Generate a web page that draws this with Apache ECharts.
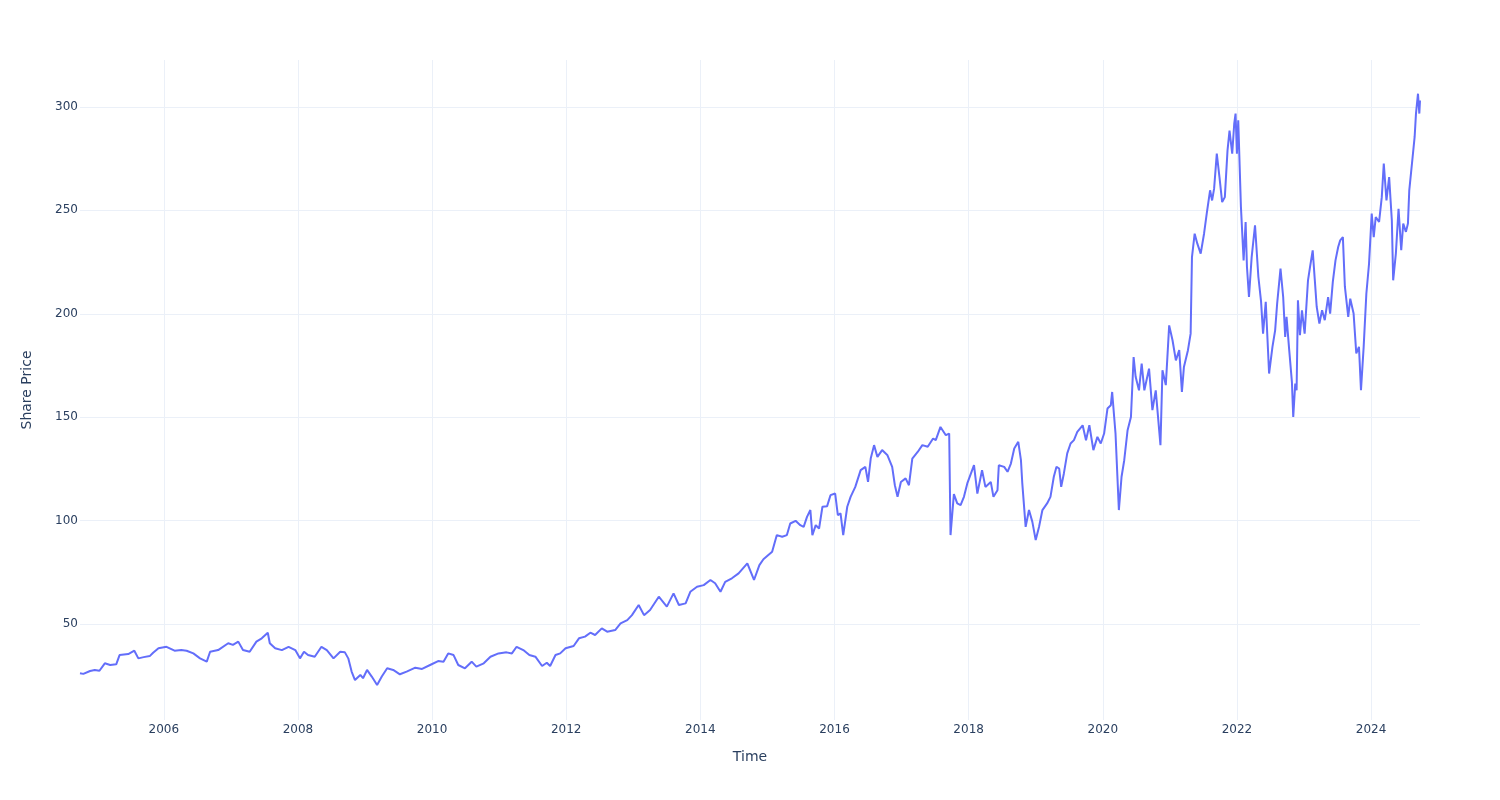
<!DOCTYPE html>
<html>
<head>
<meta charset="utf-8">
<script src="https://cdn.jsdelivr.net/npm/echarts@6/dist/echarts.min.js"></script>
<style>html,body{margin:0;padding:0;background:#fff;}#chart{width:1500px;height:800px;}</style>
</head>
<body>
<div id="chart"></div>
<script>
// Time as decimal years
const years = [
2004.75,2004.80,2004.90,2004.97,2005.04,2005.12,2005.20,2005.29,2005.34,2005.47,2005.56,2005.62,2005.70,2005.79,2005.84,2005.92,
2006.04,2006.16,2006.26,2006.34,2006.44,2006.54,2006.64,2006.69,2006.81,2006.96,
2007.03,2007.11,2007.18,2007.28,2007.38,2007.46,2007.55,2007.58,2007.66,2007.76,2007.86,2007.96,
2008.03,2008.09,2008.15,2008.25,2008.35,2008.43,2008.53,2008.63,2008.70,2008.75,2008.80,2008.85,2008.93,2008.97,
2009.03,2009.10,2009.18,2009.25,2009.33,2009.42,2009.52,2009.62,2009.75,2009.85,2009.97,
2010.09,2010.17,2010.24,2010.32,2010.39,2010.49,2010.59,2010.66,2010.77,2010.87,2010.99,
2011.11,2011.19,2011.26,2011.36,2011.45,2011.54,2011.64,2011.71,2011.76,2011.84,2011.91,2011.99,
2012.11,2012.19,2012.28,2012.36,2012.43,2012.53,2012.61,2012.73,2012.81,2012.91,2012.98,
2013.08,2013.16,2013.25,2013.38,2013.50,2013.60,2013.68,2013.78,2013.85,2013.95,
2014.05,2014.15,2014.22,2014.30,2014.37,2014.47,2014.57,2014.70,2014.80,2014.88,2014.94,
2015.07,2015.14,2015.22,2015.29,2015.34,2015.42,2015.49,2015.54,2015.59,2015.64,2015.67,2015.72,2015.77,2015.82,2015.89,2015.94,
2016.01,2016.05,2016.09,2016.13,2016.19,2016.24,2016.31,2016.39,2016.46,2016.50,2016.54,2016.59,2016.64,2016.71,2016.79,2016.86,2016.90,2016.94,2016.99,
2017.06,2017.11,2017.16,2017.24,2017.31,2017.39,2017.47,2017.51,2017.58,2017.66,2017.71,2017.73,2017.78,2017.83,2017.88,2017.93,2017.98,
2018.08,2018.13,2018.20,2018.25,2018.33,2018.37,2018.43,2018.45,2018.53,2018.58,2018.63,2018.68,2018.74,2018.78,2018.80,2018.85,2018.90,2018.95,
2019.00,2019.05,2019.10,2019.17,2019.22,2019.27,2019.31,2019.35,2019.38,2019.42,2019.47,2019.52,2019.57,2019.62,2019.70,2019.75,2019.80,2019.86,2019.92,2019.97,
2020.02,2020.07,2020.12,2020.14,2020.17,2020.19,2020.24,2020.28,2020.32,2020.37,2020.42,2020.46,2020.49,2020.54,2020.58,2020.62,2020.69,2020.74,2020.79,2020.86,2020.89,2020.94,2020.99,
2021.04,2021.09,2021.14,2021.18,2021.21,2021.27,2021.31,2021.33,2021.37,2021.41,2021.46,2021.51,2021.55,2021.60,2021.63,2021.66,2021.70,2021.74,2021.78,2021.82,2021.86,2021.89,2021.93,2021.96,2021.98,
2022.00,2022.02,2022.06,2022.10,2022.13,2022.15,2022.18,2022.22,2022.27,2022.32,2022.36,2022.39,2022.43,2022.48,2022.53,2022.57,2022.60,2022.65,2022.69,2022.72,2022.74,2022.78,2022.82,2022.84,2022.87,2022.89,2022.91,2022.94,2022.97,
2023.01,2023.06,2023.09,2023.13,2023.16,2023.19,2023.23,2023.27,2023.31,2023.36,2023.39,2023.43,2023.47,2023.51,2023.54,2023.58,2023.61,2023.66,2023.69,2023.74,2023.78,2023.82,2023.85,2023.89,2023.93,2023.97,
2024.01,2024.04,2024.07,2024.12,2024.16,2024.19,2024.23,2024.27,2024.31,2024.33,2024.37,2024.41,2024.45,2024.48,2024.52,2024.55,2024.57,2024.62,2024.65,2024.67,2024.70,2024.72,2024.73
];
const prices = [
26.2,25.9,27.3,27.8,27.4,31.0,30.2,30.5,35.0,35.5,37.1,33.4,34.0,34.5,36.1,38.3,
39.0,37.1,37.4,37.1,35.8,33.4,31.8,36.6,37.4,40.7,
39.9,41.5,37.4,36.6,41.5,43.1,45.8,40.7,38.3,37.4,39.0,37.4,
33.4,36.6,35.0,34.2,39.0,37.4,33.4,36.6,36.3,33.4,27.0,22.9,25.4,23.8,
27.8,24.6,20.5,24.6,28.6,27.8,25.7,27.0,28.9,28.3,30.2,
32.1,31.8,35.8,35.0,30.2,28.6,31.8,29.4,31.0,34.2,35.8,
36.3,35.8,39.0,37.4,35.0,34.2,29.7,31.3,29.7,35.0,35.8,38.3,
39.4,43.1,43.9,45.8,44.7,47.9,46.3,47.1,50.3,51.9,54.3,
59.2,54.3,56.8,63.2,58.4,64.8,59.2,60.0,65.6,68.0,
68.8,71.3,69.7,65.6,70.4,72.1,74.5,79.3,71.3,78.5,81.3,
84.9,93.0,92.2,93.0,98.6,99.9,97.8,97.0,101.8,105.1,93.0,97.8,96.2,106.7,107.0,112.3,
113.1,102.7,103.5,93.0,106.7,111.5,116.3,124.4,126.0,118.7,130.0,136.5,130.8,134.1,131.6,126.0,117.1,111.5,118.7,
120.4,117.1,130.0,133.2,136.5,135.7,139.7,138.9,145.3,141.3,142.1,93.0,112.8,108.3,107.5,111.5,118.0,
126.8,113.1,124.4,116.3,118.7,111.5,114.7,126.8,126.0,123.6,127.6,134.9,138.1,129.2,118.0,97.0,105.1,99.4,
90.6,97.0,105.1,108.3,111.5,121.2,126.0,125.2,116.3,122.8,132.5,137.3,138.9,142.9,146.1,138.9,146.1,134.1,140.5,137.3,
142.1,154.2,155.8,162.2,150.1,142.1,105.1,121.2,129.2,143.7,150.1,179.1,169.5,163.0,175.9,163.0,173.5,153.4,163.0,136.5,172.7,165.5,194.4,
187.2,177.5,182.4,162.2,174.3,182.4,190.4,227.4,238.7,233.9,229.1,238.7,248.4,259.7,254.8,260.5,277.4,266.1,254.0,256.4,279.0,288.6,277.4,291.9,296.8,
277.4,293.5,251.6,225.8,244.4,222.6,208.1,227.4,242.8,217.9,206.0,190.4,205.8,171.1,184.0,192.0,204.9,221.8,208.1,188.8,198.5,182.4,167.1,150.1,166.3,163.0,206.5,189.6,201.7,
190.4,216.2,222.6,230.7,217.0,203.3,195.3,201.7,196.9,208.1,200.1,215.4,225.8,232.3,235.5,237.1,213.1,198.5,207.3,200.1,180.8,184.0,163.0,184.0,209.7,224.2,
248.4,237.1,246.8,244.4,256.4,272.6,254.8,266.1,245.2,216.2,229.1,250.8,230.7,243.6,239.6,243.6,259.7,275.8,285.5,296.8,306.4,296.8,303.1
];
const xTicks = [2006,2008,2010,2012,2014,2016,2018,2020,2022,2024];
const yTicks = [50,100,150,200,250,300];

const chart = echarts.init(document.getElementById('chart'), null, {renderer:'canvas'});
const txt = '#2a3f5f';
const gridColor = '#EBF0F8';
chart.setOption({
  backgroundColor:'#ffffff',
  animation:false,
  grid:{left:80,right:80,top:60,bottom:80,containLabel:false},
  xAxis:{
    type:'value', min:2004.75, max:2024.73,
    name:'Time', nameLocation:'middle', nameGap:30,
    nameTextStyle:{color:txt,fontSize:14,fontFamily:'DejaVu Sans'},
    axisLine:{show:false}, axisTick:{show:false, customValues:xTicks},
    axisLabel:{customValues:xTicks, color:txt, fontSize:12, fontFamily:'DejaVu Sans', margin:4, formatter:v=>String(Math.round(v))},
    splitLine:{show:true,lineStyle:{color:gridColor,width:1}}
  },
  yAxis:{
    type:'value', min:3.6, max:322.7,
    name:'Share Price', nameLocation:'middle', nameGap:46,
    nameTextStyle:{color:txt,fontSize:14,fontFamily:'DejaVu Sans'},
    axisLine:{show:false}, axisTick:{show:false, customValues:yTicks},
    axisLabel:{customValues:yTicks, color:txt, fontSize:12, fontFamily:'DejaVu Sans', margin:2},
    splitLine:{show:true,lineStyle:{color:gridColor,width:1}}
  },
  series:[{
    type:'line', showSymbol:false, symbol:'none',
    data: years.map((y,i)=>[y, prices[i]]),
    lineStyle:{color:'#636efa',width:2}, itemStyle:{color:'#636efa'}
  }]
});
</script>
</body>
</html>
